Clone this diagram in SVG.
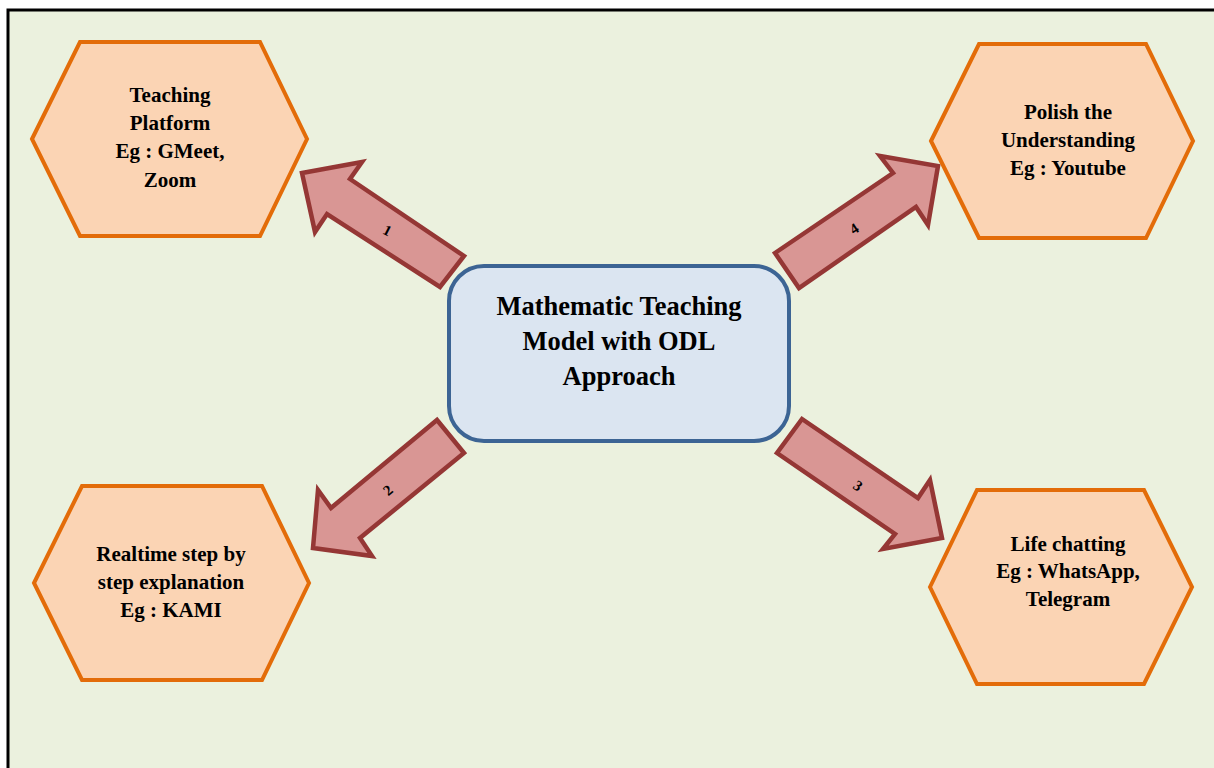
<svg xmlns="http://www.w3.org/2000/svg" width="1214" height="768" viewBox="0 0 1214 768">
<style>
.hex{fill:#FBD4B4;stroke:#E36C09;stroke-width:4;stroke-linejoin:miter}
.arr{fill:#D99694;stroke:#953735;stroke-width:4.5;stroke-linejoin:miter}
.t{font-family:"Liberation Serif","Times New Roman",serif;font-weight:bold;font-size:21px;fill:#000;text-anchor:middle}
.c{font-size:26.5px}
.n{font-family:"Liberation Serif","Times New Roman",serif;font-weight:bold;font-size:15px;fill:#000;text-anchor:middle}
</style>
<rect x="0" y="0" width="1214" height="768" fill="#FFFFFF"/>
<rect x="9" y="11" width="1205" height="757" fill="#EBF1DE"/>
<path d="M8 768 V10 H1214" fill="none" stroke="#000" stroke-width="3"/>
<g id="connectors">
<polygon class="arr" points="302,173 362,162 350,179 464,256 440,287 327,214 315,232"/>
<text class="n" transform="translate(385,235) rotate(27)">1</text>
<polygon class="arr" points="437,420 464,453 360,538 372,556 313,548 318,490 331,508"/>
<text class="n" transform="translate(391,494) rotate(-40)">2</text>
<polygon class="arr" points="802,419 777,453 895,534 883,549 942,538 930,480 918,498"/>
<text class="n" transform="translate(855,490) rotate(35)">3</text>
<polygon class="arr" points="775,253 799,288 916,207 928,225 938,166 880,156 893,173"/>
<text class="n" transform="translate(857,233) rotate(-33)">4</text>
</g>
<g id="center">
<rect x="449" y="266" width="340" height="175" rx="35" ry="35" fill="#DBE5F1" stroke="#3C6494" stroke-width="4"/>
<text class="t c" x="619" y="315">Mathematic Teaching</text>
<text class="t c" x="619" y="350">Model with ODL</text>
<text class="t c" x="619" y="385">Approach</text>
</g>
<g id="teaching-platform">
<polygon class="hex" points="32,139 80,42 260,42 307,139 260,236 80,236"/>
<text class="t" x="170" y="102">Teaching</text>
<text class="t" x="170" y="130">Platform</text>
<text class="t" x="170" y="158">Eg : GMeet,</text>
<text class="t" x="170" y="187">Zoom</text>
</g>
<g id="polish">
<polygon class="hex" points="931,141 979,44 1146,44 1193,141 1146,238 979,238"/>
<text class="t" x="1068" y="119">Polish the</text>
<text class="t" x="1068" y="147">Understanding</text>
<text class="t" x="1068" y="175">Eg : Youtube</text>
</g>
<g id="realtime">
<polygon class="hex" points="34,583 82,486 262,486 309,583 262,680 82,680"/>
<text class="t" x="171" y="561">Realtime step by</text>
<text class="t" x="171" y="589">step explanation</text>
<text class="t" x="171" y="617">Eg : KAMI</text>
</g>
<g id="life-chatting">
<polygon class="hex" points="930,587 977,490 1144,490 1192,587 1144,684 977,684"/>
<text class="t" x="1068" y="551">Life chatting</text>
<text class="t" x="1068" y="578">Eg : WhatsApp,</text>
<text class="t" x="1068" y="606">Telegram</text>
</g>
</svg>
